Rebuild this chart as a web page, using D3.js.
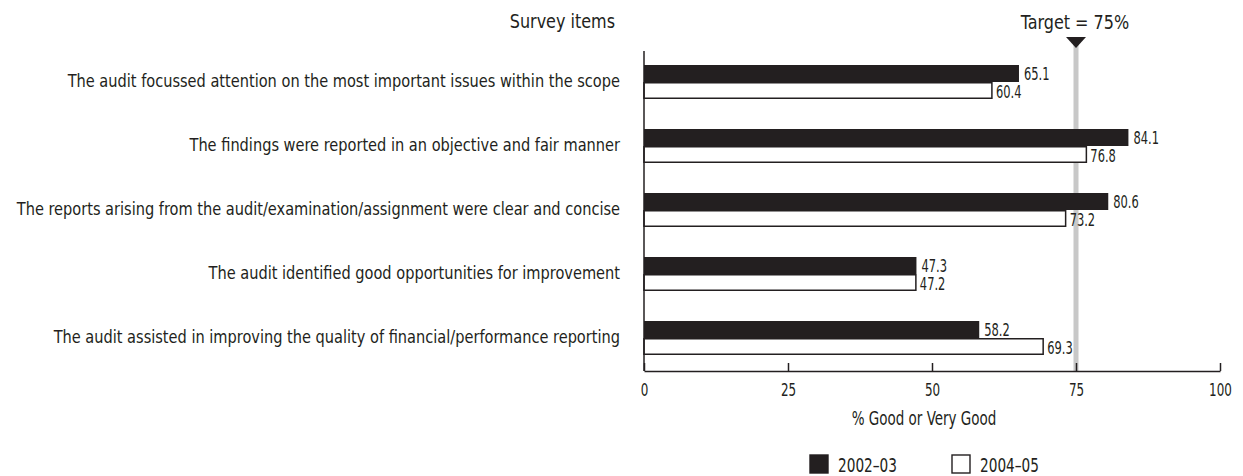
<!DOCTYPE html>
<html>
<head>
<meta charset="utf-8">
<script src="https://cdn.jsdelivr.net/npm/d3@7"></script>
<style>
  body { margin: 0; background: #fff; }
  text { font-family: "DejaVu Sans Condensed", "Liberation Sans Narrow", sans-serif; fill: #231f20; }
</style>
</head>
<body>
<svg id="chart" width="1243" height="476"></svg>
<script>
const items = [
  "The audit focussed attention on the most important issues within the scope",
  "The findings were reported in an objective and fair manner",
  "The reports arising from the audit/examination/assignment were clear and concise",
  "The audit identified good opportunities for improvement",
  "The audit assisted in improving the quality of financial/performance reporting"
];
const values0203 = [65.1, 84.1, 80.6, 47.3, 58.2];
const values0405 = [60.4, 76.8, 73.2, 47.2, 69.3];
const seriesNames = ["2002\u201303", "2004\u201305"];
const xTicks = [0, 25, 50, 75, 100];
const target = 75;

const svg = d3.select("#chart");
const ink = "#231f20";

const x = d3.scaleLinear().domain([0, 100]).range([644, 1220]);
const y = d3.scaleBand().domain(items).range([50, 370]);
const barH = 17;
const mid = d => y(d) + y.bandwidth() / 2;

// squeezed text, to get closer to the narrow face of the original
function label(sel, px, py, str, size, sx, anchor) {
  return sel.append("text")
    .attr("transform", `translate(${px},${py}) scale(${sx},1)`)
    .attr("font-size", size)
    .attr("text-anchor", anchor || "start")
    .text(str);
}

// target line
svg.append("line")
  .attr("x1", x(target)).attr("x2", x(target))
  .attr("y1", 44).attr("y2", 371)
  .attr("stroke", "#c8c8c8").attr("stroke-width", 5);
svg.append("path")
  .attr("d", `M${x(target) - 10},37 L${x(target) + 10},37 L${x(target)},48 Z`)
  .attr("fill", ink);
label(svg, x(target) - 1, 29, "Target = 75%", 20, 0.89, "middle");

label(svg, 615, 28, "Survey items", 20, 0.89, "end");

// bars
const rows = items.map((d, i) => ({ item: d, a: values0203[i], b: values0405[i] }));
const row = svg.append("g").selectAll("g.row").data(rows).enter().append("g").attr("class", "row");

row.append("rect")
  .attr("x", x(0))
  .attr("y", d => mid(d.item) - barH)
  .attr("width", d => x(d.a) - x(0))
  .attr("height", barH)
  .attr("fill", ink);
row.append("rect")
  .attr("x", x(0))
  .attr("y", d => mid(d.item) + 0.75)
  .attr("width", d => x(d.b) - x(0))
  .attr("height", barH - 1.5)
  .attr("fill", "#fff").attr("stroke", ink).attr("stroke-width", 1.5);

row.each(function (d) {
  const r = d3.select(this);
  label(r, x(d.a) + 5, mid(d.item) - 2, d.a.toFixed(1), 17, 0.75);
  label(r, x(d.b) + 4, mid(d.item) + 16, d.b.toFixed(1), 17, 0.75);
  label(r, 620, mid(d.item) + 5, d.item, 18, 0.9, "end");
});

// axes
svg.append("line")
  .attr("x1", x(0)).attr("x2", x(0))
  .attr("y1", 51).attr("y2", 371)
  .attr("stroke", ink).attr("stroke-width", 1.5);

const axis = svg.append("g")
  .attr("transform", "translate(0,371)")
  .call(d3.axisBottom(x).tickValues(xTicks).tickSizeInner(-8).tickSizeOuter(0).tickFormat(""));
axis.select(".domain").attr("stroke", ink).attr("stroke-width", 1.5);
axis.selectAll(".tick line").attr("stroke", ink).attr("stroke-width", 1.5);
axis.selectAll(".tick").each(function (d) {
  label(d3.select(this), 0, 25, d, 17, 0.78, "middle");
});

label(svg, 924, 425, "% Good or Very Good", 20, 0.75, "middle");

// legend
const legend = svg.append("g").selectAll("g").data(seriesNames).enter().append("g")
  .attr("transform", (d, i) => `translate(${810 + i * 142},455)`);
legend.append("rect")
  .attr("width", 18).attr("height", 18)
  .attr("fill", (d, i) => i === 0 ? ink : "#fff")
  .attr("stroke", ink).attr("stroke-width", 1.4);
legend.each(function (d) {
  label(d3.select(this), 28, 17, d, 19, 0.8);
});
</script>
</body>
</html>
